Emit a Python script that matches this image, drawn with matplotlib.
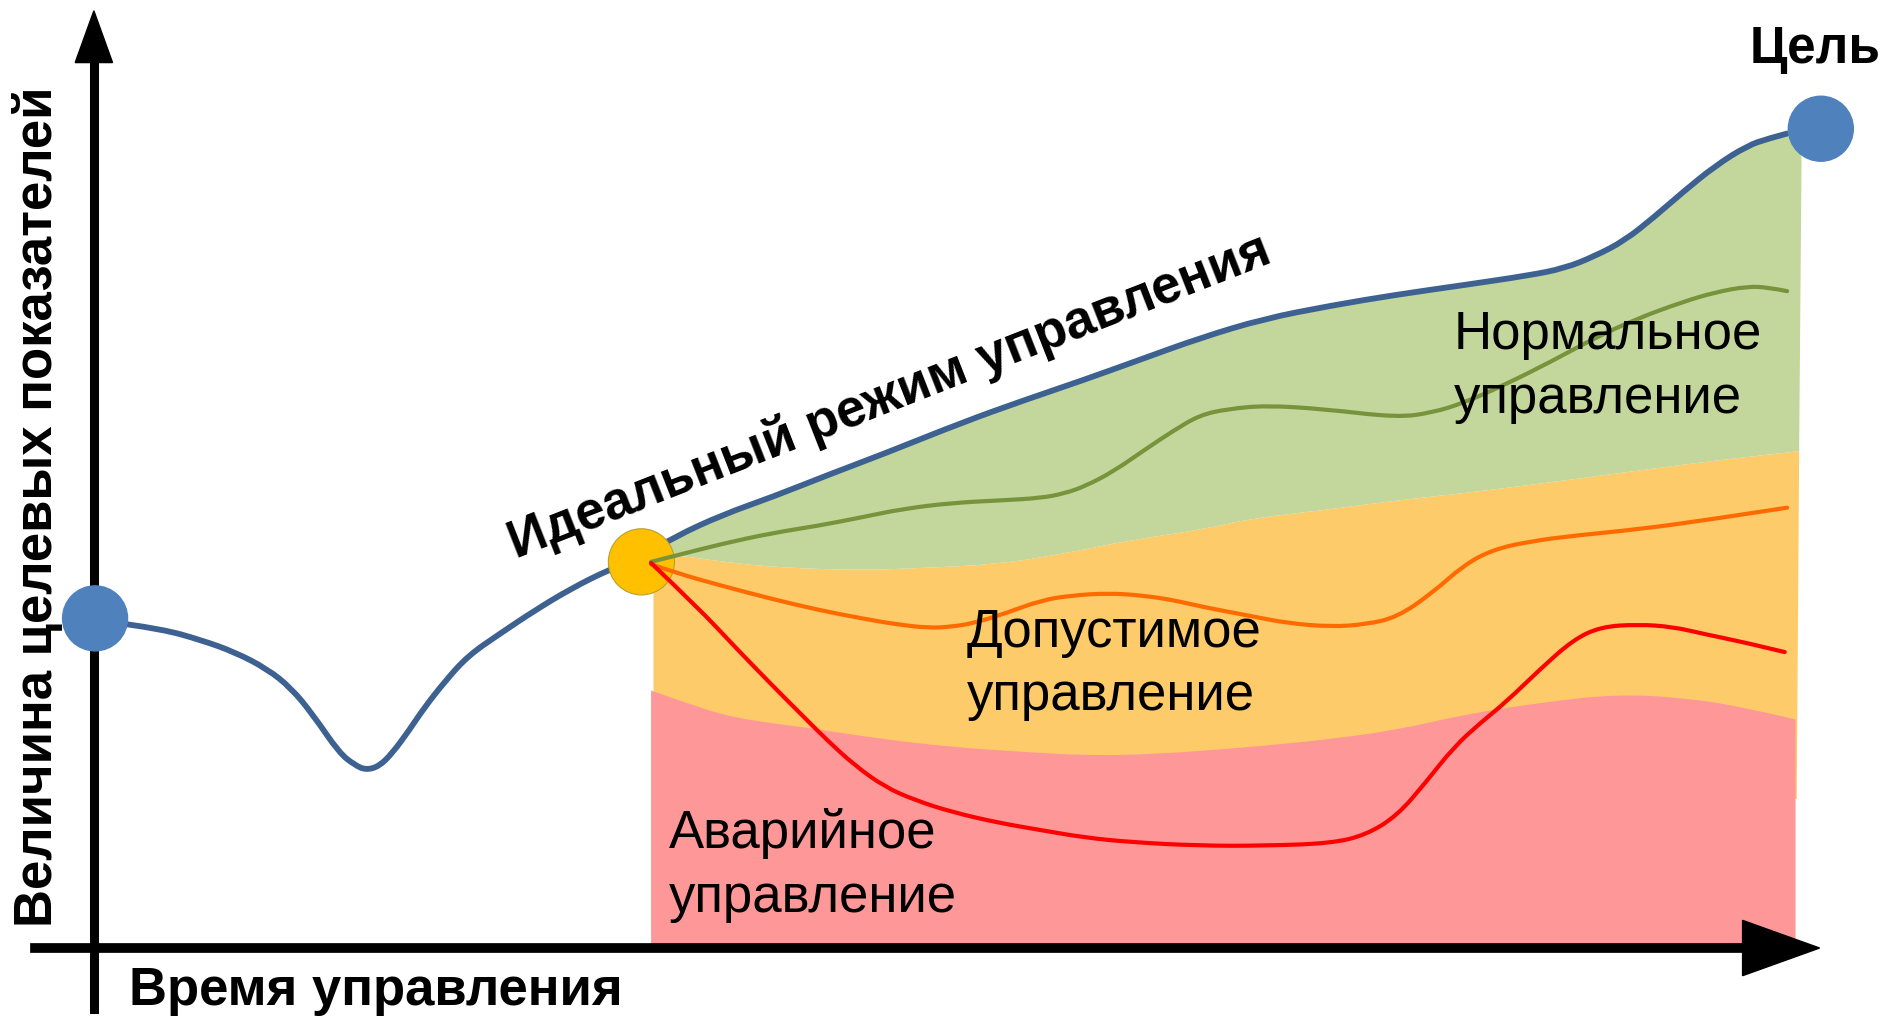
import matplotlib.pyplot as plt
from matplotlib.patches import Circle, PathPatch
from matplotlib.path import Path

plt.rcParams['font.family'] = ['Liberation Sans', 'DejaVu Sans']

# coordinates are in picture units (x to the right, y downwards)
W, H = 1568, 847

# ideal control curve (start point -> goal)
ideal_x = [106, 135, 167, 195, 222, 242, 260, 282, 295, 304, 315, 326, 340, 352, 370, 389,
           415, 445, 475, 505, 533, 561, 600, 642, 690, 735, 800, 850, 900, 950, 997, 1050,
           1106, 1160, 1216, 1270, 1300, 1325, 1350, 1375, 1398, 1425, 1452, 1470, 1485]
ideal_y = [519, 523, 532, 542, 556, 572, 594, 626, 636, 640, 637, 626, 607, 589, 566, 545,
           527, 507, 489, 474, 463, 446, 428, 413, 394, 377, 351, 333, 316, 298, 281, 265,
           254, 245, 237, 229, 223, 213, 200, 180, 160, 138, 121, 115, 111]

# normal control (green)
normal_x = [541, 561, 600, 642, 680, 716, 750, 791, 830, 865, 885, 902, 925, 951, 975, 997,
            1020, 1052, 1100, 1161, 1190, 1216, 1250, 1290, 1325, 1360, 1398, 1425, 1452, 1470, 1485]
normal_y = [467, 462, 452, 443, 437, 430, 423, 418, 416, 414, 410, 404, 392, 374, 358, 345,
            340, 337, 340, 347, 343, 335, 320, 300, 281, 265, 251, 243, 238, 239, 242]

# admissible control (orange)
admis_x = [541, 561, 600, 642, 680, 716, 745, 772, 790, 809, 835, 865, 890, 921, 950, 976,
           997, 1039, 1070, 1106, 1135, 1161, 1190, 1216, 1240, 1271, 1310, 1361, 1420, 1485]
admis_y = [469, 476, 487, 498, 507, 514, 519, 522, 521, 518, 510, 499, 495, 493, 495, 499,
           504, 512, 518, 521, 519, 513, 493, 470, 457, 450, 445, 440, 432, 422]

# emergency control (red)
emerg_x = [541, 580, 610, 642, 665, 687, 710, 735, 760, 791, 830, 865, 900, 939, 997, 1050,
           1106, 1135, 1161, 1185, 1208, 1230, 1252, 1280, 1307, 1330, 1361, 1390, 1416, 1450, 1483]
emerg_y = [468, 505, 537, 570, 593, 615, 636, 654, 665, 675, 684, 690, 696, 700, 703, 703,
           701, 694, 678, 650, 621, 601, 583, 556, 532, 521, 519, 521, 527, 534, 542]

# zone boundaries
yellow_top_x = [543, 561, 600, 650, 716, 770, 828, 880, 939, 1000, 1039, 1100, 1160, 1216,
                1280, 1340, 1400, 1450, 1495]
yellow_top_y = [461, 461, 467, 472, 474, 472, 469, 461, 449, 440, 431, 424, 416, 410,
                402, 394, 386, 380, 375]
pink_top_x = [541, 572, 610, 672, 730, 791, 850, 902, 960, 1039, 1100, 1160, 1216, 1280,
              1343, 1400, 1450, 1492]
pink_top_y = [574, 585, 597, 605, 614, 621, 625, 628, 627, 621, 615, 607, 594, 584,
              577, 580, 588, 598]

x_axis_y = 788
y_axis_x = 78


def smooth(xs, ys, first=True):
    # quadratic bezier pieces with the read points as control points
    pts = list(zip(xs, ys))
    verts = [pts[0]]
    codes = [Path.MOVETO if first else Path.LINETO]
    for i in range(1, len(pts) - 1):
        if i < len(pts) - 2:
            end = ((pts[i][0] + pts[i + 1][0]) / 2, (pts[i][1] + pts[i + 1][1]) / 2)
        else:
            end = pts[-1]
        verts += [pts[i], end]
        codes += [Path.CURVE3, Path.CURVE3]
    return verts, codes


def line_patch(xs, ys, color, lw, z):
    v, c = smooth(xs, ys)
    return PathPatch(Path(v, c), fill=False, edgecolor=color, lw=lw,
                     capstyle='round', joinstyle='round', zorder=z)


def area_patch(parts, color, z):
    verts, codes = [], []
    for k, (xs, ys) in enumerate(parts):
        if len(xs) > 2:
            v, c = smooth(xs, ys, first=(k == 0))
        else:
            v = list(zip(xs, ys))
            c = [Path.MOVETO if k == 0 else Path.LINETO] + [Path.LINETO] * (len(v) - 1)
        verts += v
        codes += c
    verts.append(verts[0])
    codes.append(Path.CLOSEPOLY)
    return PathPatch(Path(verts, codes), facecolor=color, lw=0, zorder=z)


fig = plt.figure(figsize=(18.87, 10.19), dpi=100)
ax = fig.add_axes([0, 0, 1, 1])
ax.set_xlim(0, W)
ax.set_ylim(H, 0)
ax.axis('off')

# zones
i0 = ideal_x.index(533)
ax.add_patch(area_patch([(yellow_top_x, yellow_top_y), ([1493, 543], [664, 664])],
                        '#FDCB6A', 0.9))
ax.add_patch(area_patch([(pink_top_x, pink_top_y), ([1492, 541], [x_axis_y, x_axis_y])],
                        '#FE9898', 1))
ax.add_patch(area_patch([(ideal_x[i0:], ideal_y[i0:]), ([1497], [130]),
                         (yellow_top_x[::-1], yellow_top_y[::-1])], '#C3D69B', 1))

# ideal curve and control variants
ax.add_patch(line_patch(ideal_x, ideal_y, '#3D6190', 4.2, 3))
ax.add_patch(Circle((533, 467), 27.5, facecolor='#FFC000', edgecolor='#B8A030',
                    lw=0.8, zorder=4))
ax.add_patch(line_patch(normal_x, normal_y, '#77933C', 3, 5))
ax.add_patch(line_patch(admis_x, admis_y, '#FF6A00', 3, 5))
ax.add_patch(line_patch(emerg_x, emerg_y, '#FF0000', 3, 5))

# start and goal points
ax.add_patch(Circle((79, 514), 27, color='#4F81BD', zorder=6))
ax.add_patch(Circle((1513, 107), 27, color='#4F81BD', zorder=6))

# axes with arrow heads
ax.plot([y_axis_x, y_axis_x], [839, 45], color='black', lw=6.5, zorder=5)
ax.fill([y_axis_x - 15.5, y_axis_x + 15.5, y_axis_x], [52, 52, 9], color='black', zorder=5)
ax.plot([29, 1455], [x_axis_y, x_axis_y], color='black', lw=7, zorder=5)
ax.fill([1448, 1448, 1512], [x_axis_y - 23, x_axis_y + 23, x_axis_y], color='black', zorder=5)

# labels
ax.text(43, 421, 'Величина целевых показателей', rotation=90, fontsize=38,
        fontweight='bold', ha='center', va='baseline', rotation_mode='anchor', zorder=7)
ax.text(107, 835, 'Время управления', fontsize=38, fontweight='bold',
        ha='left', va='baseline', zorder=7)
ax.text(1508, 52, 'Цель', fontsize=37, fontweight='bold',
        ha='center', va='baseline', zorder=7)
ax.text(744, 341, 'Идеальный режим управления', rotation=21.4, fontsize=38,
        fontweight='bold', ha='center', va='baseline', rotation_mode='anchor', zorder=7)

ax.text(1208, 290, 'Нормальное', fontsize=38, va='baseline', zorder=7)
ax.text(1208, 343, 'управление', fontsize=38, va='baseline', zorder=7)
ax.text(803, 538, 'Допустимое', fontsize=38, va='baseline', zorder=7)
ax.text(803, 590, 'управление', fontsize=38, va='baseline', zorder=7)
ax.text(556, 705, 'Аварийное', fontsize=38, va='baseline', zorder=7)
ax.text(556, 758, 'управление', fontsize=38, va='baseline', zorder=7)

fig.savefig('out.png', dpi=100)
